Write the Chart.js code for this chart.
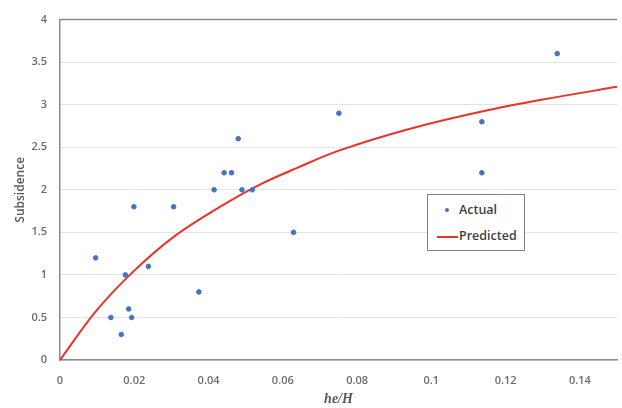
<!DOCTYPE html>
<html>
<head>
<meta charset="utf-8">
<script src="https://cdn.jsdelivr.net/npm/chart.js@4.4.0/dist/chart.umd.min.js"></script>
<style>
  html, body { margin: 0; padding: 0; background: #fff; }
  #wrap { position: relative; width: 622px; height: 408px; }
  #legend {
    position: absolute; left: 427px; top: 194px; width: 98px; height: 57px;
    border: 1px solid #7f7f7f; background: #fff; box-sizing: border-box;
    font-family: "Open Sans", sans-serif; font-size: 12.5px; font-weight: 600; color: #404040;
  }
  #legend .row { position: absolute; left: 0; height: 20px; line-height: 20px; }
  #legend .dot { position: absolute; left: 17px; top: 8px; width: 4px; height: 4px; border-radius: 50%; background: #4472c4; }
  #legend .ln { position: absolute; left: 9px; top: 10px; width: 21px; height: 2px; background: #e8322a; }
  #legend .txt { position: absolute; left: 31px; white-space: nowrap; }
</style>
</head>
<body>
<div id="wrap">
  <canvas id="chart" width="622" height="408"></canvas>
  <div id="legend">
    <div class="row" style="top:5px"><span class="dot"></span><span class="txt">Actual</span></div>
    <div class="row" style="top:31px"><span class="ln"></span><span class="txt">Predicted</span></div>
  </div>
</div>
<script>
// observed points (he/H, subsidence)
const actualX = [0.0096, 0.0137, 0.0165, 0.0176, 0.0185, 0.0193, 0.0199, 0.0238, 0.0306, 0.0374,
  0.0415, 0.0442, 0.0462, 0.048, 0.049, 0.0518, 0.0629, 0.0751, 0.1136, 0.1136, 0.1339];
const actualY = [1.2, 0.5, 0.3, 1.0, 0.6, 0.5, 1.8, 1.1, 1.8, 0.8,
  2.0, 2.2, 2.2, 2.6, 2.0, 2.0, 1.5, 2.9, 2.8, 2.2, 3.6];

// fitted curve
const predX = [0, 0.0098, 0.02, 0.0307, 0.0427, 0.0533, 0.064, 0.0751, 0.0945, 0.1136, 0.13, 0.15];
const predY = [0, 0.58, 1.05, 1.45, 1.79, 2.05, 2.26, 2.46, 2.72, 2.92, 3.06, 3.21];

const xTicks = [0, 0.02, 0.04, 0.06, 0.08, 0.1, 0.12, 0.14];

const toXY = (xs, ys) => xs.map((x, i) => ({ x: x, y: ys[i] }));

const frame = {
  id: "frame",
  afterDraw(chart) {
    const a = chart.chartArea;
    const ctx = chart.ctx;
    ctx.save();
    ctx.strokeStyle = "#8c8c8c";
    ctx.lineWidth = 1.5;
    ctx.beginPath();
    ctx.moveTo(a.left, a.top);
    ctx.lineTo(a.right, a.top);
    ctx.stroke();
    ctx.restore();
  },
};

const tickFont = { family: "Open Sans", size: 11, weight: "600" };

new Chart(document.getElementById("chart").getContext("2d"), {
  type: "scatter",
  data: {
    datasets: [
      {
        label: "Actual",
        data: toXY(actualX, actualY),
        backgroundColor: "#4472c4",
        borderColor: "#4472c4",
        pointRadius: 2.3,
        order: 1,
      },
      {
        label: "Predicted",
        type: "line",
        data: toXY(predX, predY),
        borderColor: "#e8322a",
        borderWidth: 2,
        pointRadius: 0,
        tension: 0.35,
        fill: false,
        order: 2,
      },
    ],
  },
  options: {
    responsive: false,
    animation: false,
    layout: { padding: { top: 11, right: 0, left: 13, bottom: 0 } },
    plugins: { legend: { display: false }, tooltip: { enabled: false } },
    scales: {
      x: {
        type: "linear",
        min: 0,
        max: 0.15,
        afterBuildTicks(s) {
          s.ticks = xTicks.map((v) => ({ value: v }));
        },
        afterFit(s) {
          s.height = 48;
        },
        grid: { display: false },
        border: { display: true, color: "#8c8c8c", width: 1.5 },
        ticks: {
          color: "#6b6b6b",
          font: tickFont,
          padding: 6,
          maxRotation: 0,
          callback: (v) => String(+v.toFixed(2)),
        },
        title: {
          display: true,
          text: "he/H",
          color: "#595959",
          font: { family: "Liberation Serif", size: 14, style: "italic", weight: "bold" },
          padding: { top: 2, bottom: 0 },
        },
      },
      y: {
        min: 0,
        max: 4,
        afterFit(s) {
          s.width = 47;
        },
        grid: { color: "#e3e3e3", lineWidth: 1, drawTicks: false },
        border: { display: true, color: "#8c8c8c", width: 1.5 },
        ticks: {
          stepSize: 0.5,
          color: "#6b6b6b",
          font: tickFont,
          padding: 13,
          callback: (v) => String(+v.toFixed(1)),
        },
        title: {
          display: true,
          text: "Subsidence",
          color: "#595959",
          font: { family: "Open Sans", size: 12, weight: "600" },
          padding: { top: 0, bottom: 0 },
        },
      },
    },
  },
  plugins: [frame],
});
</script>
</body>
</html>
